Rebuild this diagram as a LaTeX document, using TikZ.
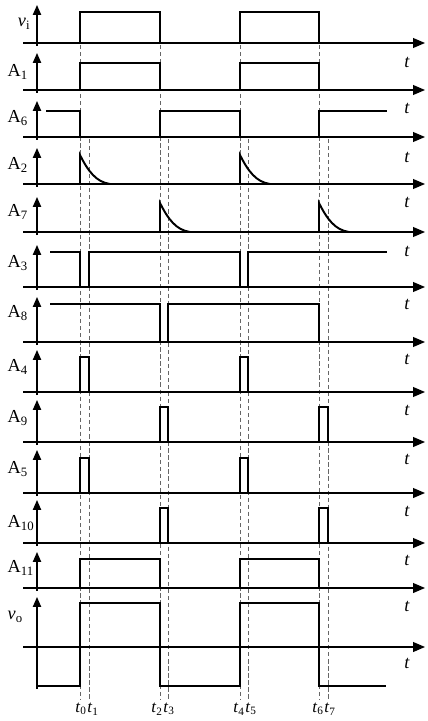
\documentclass[tikz,border=0pt]{standalone}
\usepackage{fontspec}
\setmainfont{Liberation Serif}
\usetikzlibrary{arrows.meta}

\begin{document}
\begin{tikzpicture}[x=0.025cm, y=-0.025cm,
    every node/.style={font=\fontsize{13}{15}\selectfont, inner sep=1pt},
    taxis/.style={line width=1pt, -{Triangle[length=8.5pt, width=7pt]}},
    yaxis/.style={line width=1pt, -{Triangle[length=7pt, width=5.8pt]}},
    signal/.style={line width=1.4pt},
    guide/.style={gray!80!black, line width=0.5pt, dash pattern=on 3pt off 2pt},
    lab/.style={anchor=west},
    tick/.style={font=\fontsize{12}{14}\selectfont, inner sep=0pt}]
    \useasboundingbox (0,0) rectangle (427,721);

    % Instants
    \node (l0) [tick, anchor=east] at (87,709) {\textit{t}\textsubscript{0}};
    \node (l1) [tick, anchor=west] at (87,709) {\textit{t}\textsubscript{1}};
    \node (l2) [tick, anchor=east] at (163,709) {\textit{t}\textsubscript{2}};
    \node (l3) [tick, anchor=west] at (163,709) {\textit{t}\textsubscript{3}};
    \node (l4) [tick, anchor=east] at (245,709) {\textit{t}\textsubscript{4}};
    \node (l5) [tick, anchor=west] at (245,709) {\textit{t}\textsubscript{5}};
    \node (l6) [tick, anchor=east] at (324,709) {\textit{t}\textsubscript{6}};
    \node (l7) [tick, anchor=west] at (324,709) {\textit{t}\textsubscript{7}};
    \draw[guide] (80,45) -- (80,699);
    \draw[guide] (89,139) -- (89,699);
    \draw[guide] (160,45) -- (160,699);
    \draw[guide] (168,139) -- (168,699);
    \draw[guide] (240,45) -- (240,699);
    \draw[guide] (248,139) -- (248,699);
    \draw[guide] (319,45) -- (319,699);
    \draw[guide] (328,139) -- (328,699);

    % Axes
    \node (vi) [anchor=east] at (32,24) {\textit{v}\textsubscript{i}};
    \node (ti) at (407,62) {\textit{t}};
    \draw[yaxis] (37,46) -- (37,5);
    \draw[taxis] (23,43) -- (425,43);

    \node (a1) [lab] at (6,72) {A\textsubscript{1}};
    \node (t1) at (407,108) {\textit{t}};
    \draw[yaxis] (37,93) -- (37,53);
    \draw[taxis] (23,90) -- (425,90);

    \node (a6) [lab] at (6,118) {A\textsubscript{6}};
    \node (t6) at (407,157) {\textit{t}};
    \draw[yaxis] (37,140) -- (37,101);
    \draw[taxis] (23,137) -- (425,137);

    \node (a2) [lab] at (6,165) {A\textsubscript{2}};
    \node (t2) at (407,202) {\textit{t}};
    \draw[yaxis] (37,187) -- (37,148);
    \draw[taxis] (23,184) -- (425,184);

    \node (a7) [lab] at (6,212) {A\textsubscript{7}};
    \node (t7) at (407,251) {\textit{t}};
    \draw[yaxis] (37,235) -- (37,197);
    \draw[taxis] (23,232) -- (425,232);

    \node (a3) [lab] at (6,263) {A\textsubscript{3}};
    \node (t3) at (407,304) {\textit{t}};
    \draw[yaxis] (37,290) -- (37,245);
    \draw[taxis] (23,287) -- (425,287);

    \node (a8) [lab] at (6,313) {A\textsubscript{8}};
    \node (t8) at (407,359) {\textit{t}};
    \draw[yaxis] (37,345) -- (37,297);
    \draw[taxis] (23,342) -- (425,342);

    \node (a4) [lab] at (6,367) {A\textsubscript{4}};
    \node (t4) at (407,410) {\textit{t}};
    \draw[yaxis] (37,395) -- (37,350);
    \draw[taxis] (23,392) -- (425,392);

    \node (a9) [lab] at (6,418) {A\textsubscript{9}};
    \node (t9) at (407,459) {\textit{t}};
    \draw[yaxis] (37,445) -- (37,400);
    \draw[taxis] (23,442) -- (425,442);

    \node (a5) [lab] at (6,469) {A\textsubscript{5}};
    \node (t5) at (407,511) {\textit{t}};
    \draw[yaxis] (37,496) -- (37,450);
    \draw[taxis] (23,493) -- (425,493);

    \node (a10) [lab] at (6,523) {A\textsubscript{10}};
    \node (t10) at (407,560) {\textit{t}};
    \draw[yaxis] (37,546) -- (37,500);
    \draw[taxis] (23,543) -- (425,543);

    \node (a11) [lab] at (6,568) {A\textsubscript{11}};
    \node (t11) at (407,606) {\textit{t}};
    \draw[yaxis] (37,591) -- (37,552);
    \draw[taxis] (23,588) -- (425,588);

    \node (vo) [lab] at (6,617) {\textit{v}\textsubscript{o}};
    \node (to) at (407,663) {\textit{t}};
    \draw[yaxis] (37,689) -- (37,597);
    \draw[taxis] (23,647) -- (425,647);

    % Signaux
    \draw[signal] (42,43) -- (80,43) -- (80,12) -- (160,12) -- (160,43) -- (240,43) -- (240,12) -- (319,12) -- (319,43) -- (387,43);
    \draw[signal] (42,90) -- (80,90) -- (80,63) -- (160,63) -- (160,90) -- (240,90) -- (240,63) -- (319,63) -- (319,90) -- (387,90);
    \draw[signal] (46,111) -- (80,111) -- (80,137) -- (160,137) -- (160,111) -- (240,111) -- (240,137) -- (319,137) -- (319,111) -- (387,111);
    \draw[signal] (42,184) -- (80,184) -- (80,155) .. controls (88,171) and (96,182) .. (110,184) -- (240,184) -- (240,155) .. controls (248,171) and (256,182) .. (270,184) -- (387,184);
    \draw[signal] (46,232) -- (160,232) -- (160,203) .. controls (168,219) and (176,230) .. (190,232) -- (319,232) -- (319,203) .. controls (327,219) and (335,230) .. (349,232) -- (387,232);
    \draw[signal] (50,252) -- (80,252) -- (80,287) -- (89,287) -- (89,252) -- (240,252) -- (240,287) -- (248,287) -- (248,252) -- (387,252);
    \draw[signal] (50,304) -- (160,304) -- (160,342) -- (168,342) -- (168,304) -- (319,304) -- (319,342) -- (390,342);
    \draw[signal] (40,392) -- (80,392) -- (80,357) -- (89,357) -- (89,392) -- (240,392) -- (240,357) -- (248,357) -- (248,392) -- (387,392);
    \draw[signal] (46,442) -- (160,442) -- (160,407) -- (168,407) -- (168,442) -- (319,442) -- (319,407) -- (328,407) -- (328,442) -- (387,442);
    \draw[signal] (40,493) -- (80,493) -- (80,458) -- (89,458) -- (89,493) -- (240,493) -- (240,458) -- (248,458) -- (248,493) -- (387,493);
    \draw[signal] (46,543) -- (160,543) -- (160,508) -- (168,508) -- (168,543) -- (319,543) -- (319,508) -- (328,508) -- (328,543) -- (387,543);
    \draw[signal] (42,588) -- (80,588) -- (80,559) -- (160,559) -- (160,588) -- (240,588) -- (240,559) -- (319,559) -- (319,588) -- (387,588);
    \draw[signal] (37,686) -- (80,686) -- (80,603) -- (160,603) -- (160,686) -- (240,686) -- (240,603) -- (319,603) -- (319,686) -- (386,686);
\end{tikzpicture}
\end{document}
